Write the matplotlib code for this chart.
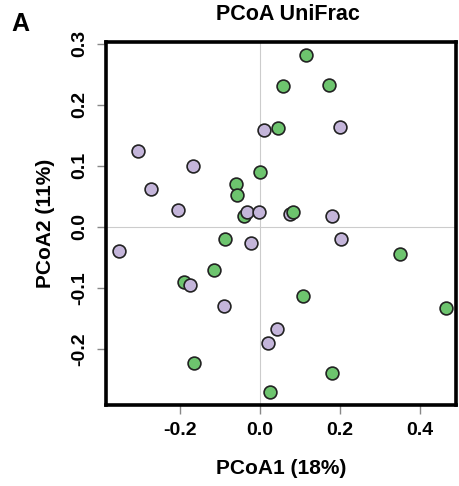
import matplotlib.pyplot as plt
import numpy as np

plt.rcParams['font.family'] = ['Liberation Sans', 'DejaVu Sans']
plt.rcParams['font.weight'] = 'bold'

# PCoA scores, in draw order (later points sit on top)
pc1 = [-0.060, -0.0575, 0.001, 0.046, -0.040, 0.115, 0.057, 0.173,
       -0.087, -0.114, -0.189, -0.166, 0.024, 0.350, 0.108, 0.464, 0.181,
       -0.306, -0.167, -0.273, -0.204, 0.011, -0.032, -0.002, 0.075,
       0.200, 0.179, -0.352, -0.0225, -0.175, -0.089, 0.019, 0.043, 0.2025,
       0.083]
pc2 = [0.0705, 0.052, 0.0897, 0.162, 0.017, 0.281, 0.231, 0.233,
       -0.020, -0.0705, -0.0897, -0.2225, -0.271, -0.045, -0.113, -0.133, -0.240,
       0.125, 0.099, 0.062, 0.027, 0.159, 0.024, 0.025, 0.021,
       0.163, 0.017, -0.039, -0.027, -0.0956, -0.130, -0.191, -0.168, -0.020,
       0.025]
group = ['g'] * 17 + ['p'] * 17 + ['g']

colores = {'g': '#6dc46e', 'p': '#c4b5da'}

fig = plt.figure(figsize=(4.59, 4.86), dpi=100)
ax = fig.add_axes([0.231, 0.1667, 0.7625, 0.747])

ax.axhline(0, color='#cccccc', lw=0.8, zorder=0)
ax.axvline(0, color='#cccccc', lw=0.8, zorder=0)

for x, y, g in zip(pc1, pc2, group):
    ax.scatter(x, y, s=85, c=colores[g], edgecolors='#222222', linewidths=1.2, zorder=2)

ax.set_xlim(-0.385, 0.49)
ax.set_ylim(-0.292, 0.303)
ax.set_xticks([-0.2, 0.0, 0.2, 0.4])
ax.set_yticks([-0.2, -0.1, 0.0, 0.1, 0.2, 0.3])
ax.set_xticklabels(['-0.2', '0.0', '0.2', '0.4'])
ax.set_yticklabels(['-0.2', '-0.1', '0.0', '0.1', '0.2', '0.3'], rotation=90, va='center')
ax.tick_params(axis='both', length=6.5, width=1, color='#888888', labelsize=14, pad=6)
for lab in ax.get_xticklabels() + ax.get_yticklabels():
    lab.set_fontweight('bold')

for sp in ax.spines.values():
    sp.set_linewidth(2.6)

ax.set_xlabel('PCoA1 (18%)', fontsize=15, fontweight='bold', labelpad=14)
ax.set_ylabel('PCoA2 (11%)', fontsize=15, fontweight='bold', labelpad=12)

fig.text(288 / 459, 1 - 15 / 486, 'PCoA UniFrac', ha='center', va='center',
         fontsize=15.5, fontweight='bold')
fig.text(20 / 459, 1 - 24 / 486, 'A', ha='center', va='center',
         fontsize=18, fontweight='bold')

fig.savefig('out.png', dpi=100)
